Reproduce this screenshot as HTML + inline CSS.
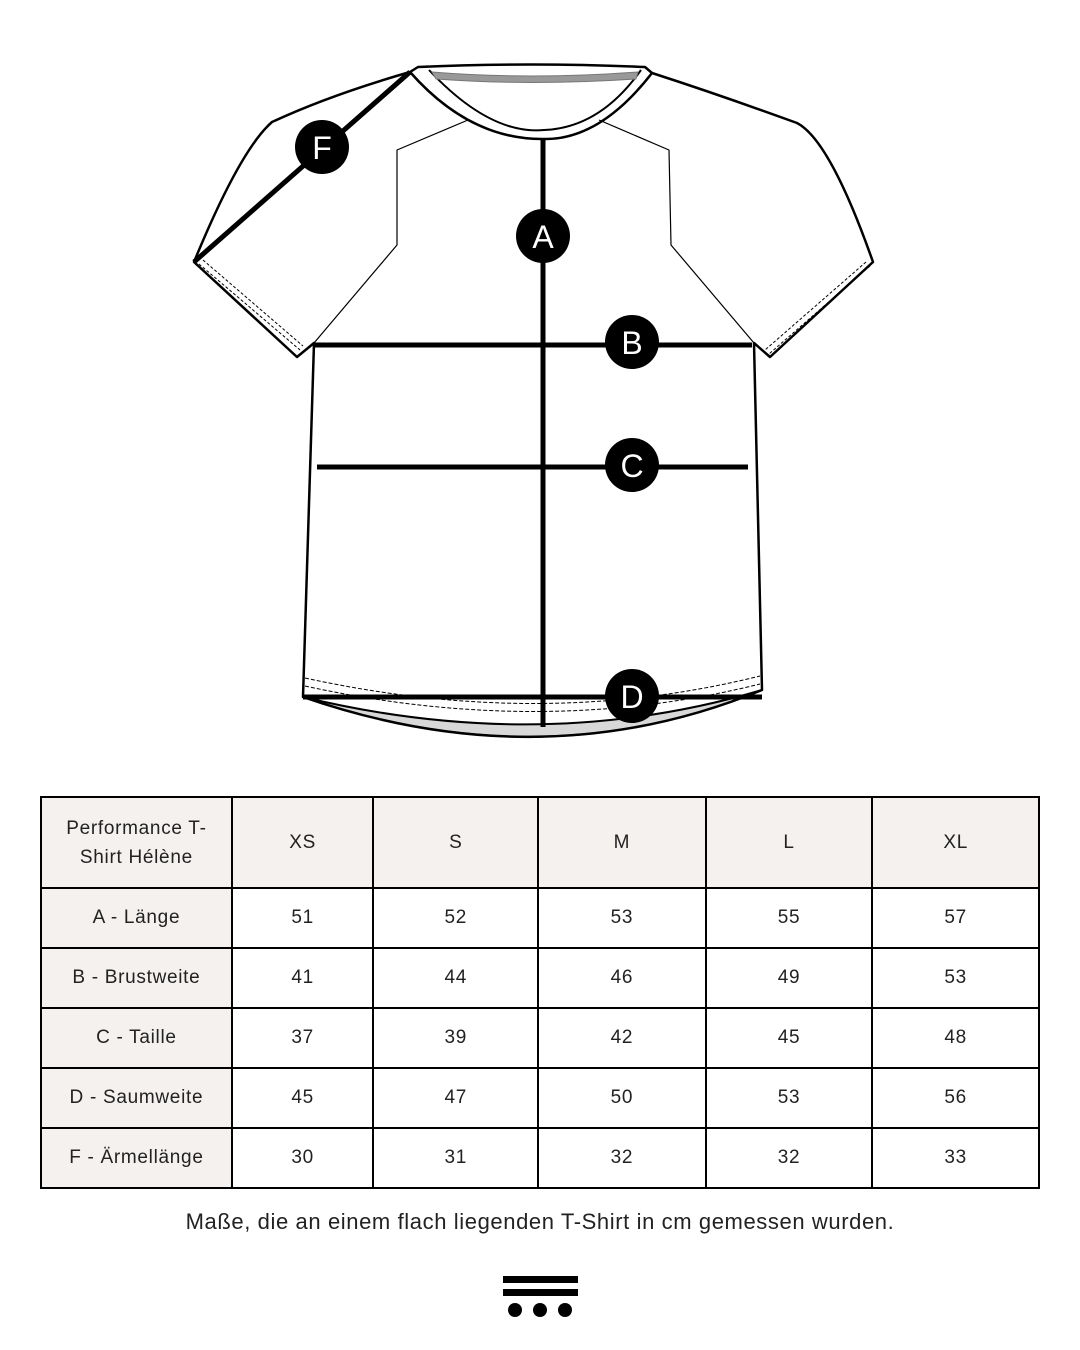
<!DOCTYPE html>
<html><head><meta charset="utf-8"><style>
html,body{margin:0;padding:0;background:#fff;width:1080px;height:1350px;overflow:hidden;font-family:"Liberation Sans",sans-serif;color:#222}
svg{position:absolute;left:0;top:0}
table{position:absolute;left:40px;top:796px;width:1000px;border-collapse:collapse}
td{border:2px solid #000;text-align:center;font-size:19px;letter-spacing:0.7px;height:58px;padding:0;color:#222}
tr:first-child td{background:#f4f1ef;height:89px;line-height:29px}
td:first-child{background:#f4f1ef}
.cap{position:absolute;left:0;width:1080px;top:1209px;text-align:center;font-size:22px;letter-spacing:0.6px;color:#222}
</style></head><body>
<svg width="1080" height="1350" viewBox="0 0 1080 1350">
<g fill="none" stroke="#000" stroke-linejoin="round">
<path d="M303,697 Q543,780 762,690 Q543,755 303,697 Z" fill="#d8d8d8" stroke-width="2"/>
<path d="M410,72 Q330,95 272,122 Q240,150 194,262 L297,357 L314,343 L303,697 Q543,780 762,690 L754,343 L770,357 L873,262 Q830,140 797,123 Q720,95 652,73" stroke-width="2.5"/>
<path d="M410,72 L418,67 Q530,62 645,67 L652,73 Q600,140 544,139 Q470,140 410,72 Z" stroke-width="2.5"/>
<path d="M429,70 Q490,135 544,130 Q600,128 641,70" stroke-width="2"/>
<path d="M432,72 Q530,80 638,72 L636,79 Q530,86 436,79 Z" fill="#999" stroke="#777" stroke-width="1"/>
<path d="M468,120 L397,150 L397,245 L314,343" stroke-width="1.2"/>
<path d="M599,120 L669,150 L671,245 L754,343" stroke-width="1.2"/>
<path d="M199,264 L300,350 M203,260 L303,346" stroke-width="1" stroke-dasharray="3,2"/>
<path d="M866,262 L765,350 M870,266 L769,354" stroke-width="1" stroke-dasharray="3,2"/>
<path d="M305,678 Q543,730 760,676 M305,686 Q543,738 760,684" stroke-width="1" stroke-dasharray="4,2"/>
<path d="M410,72 L194,262" stroke-width="5"/>
<path d="M543,139 L543,727" stroke-width="5"/>
<path d="M313,345 L752,345" stroke-width="5"/>
<path d="M317,467 L748,467" stroke-width="5"/>
<path d="M303,697 L762,697" stroke-width="5"/>
</g>
<g fill="#000">
<circle cx="322" cy="147" r="27"/><circle cx="543" cy="236" r="27"/>
<circle cx="632" cy="342" r="27"/><circle cx="632" cy="465" r="27"/><circle cx="632" cy="696" r="27"/>
</g>
<g fill="#fff" font-family="Liberation Sans, sans-serif" font-size="32" text-anchor="middle">
<text x="322" y="159">F</text><text x="543" y="248">A</text>
<text x="632" y="354">B</text><text x="632" y="477">C</text><text x="632" y="708">D</text>
</g>
<g fill="#000">
<rect x="503" y="1276" width="75" height="7"/><rect x="503" y="1289" width="75" height="7"/>
<circle cx="515" cy="1310" r="7"/><circle cx="540" cy="1310" r="7"/><circle cx="565" cy="1310" r="7"/>
</g>
</svg>
<table>
<colgroup><col style="width:191px"><col style="width:142px"><col style="width:165px"><col style="width:168px"><col style="width:167px"><col style="width:167px"></colgroup>
<tr><td>Performance T-<br>Shirt Hélène</td><td>XS</td><td>S</td><td>M</td><td>L</td><td>XL</td></tr>
<tr><td>A - Länge</td><td>51</td><td>52</td><td>53</td><td>55</td><td>57</td></tr>
<tr><td>B - Brustweite</td><td>41</td><td>44</td><td>46</td><td>49</td><td>53</td></tr>
<tr><td>C - Taille</td><td>37</td><td>39</td><td>42</td><td>45</td><td>48</td></tr>
<tr><td>D - Saumweite</td><td>45</td><td>47</td><td>50</td><td>53</td><td>56</td></tr>
<tr><td>F - Ärmellänge</td><td>30</td><td>31</td><td>32</td><td>32</td><td>33</td></tr>
</table>
<div class="cap">Maße, die an einem flach liegenden T-Shirt in cm gemessen wurden.</div>
</body></html>
